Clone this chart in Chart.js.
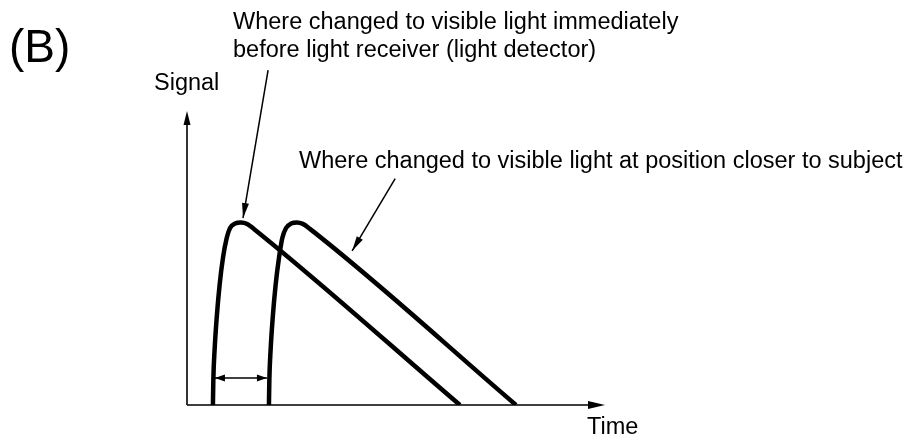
<!DOCTYPE html>
<html>
<head>
<meta charset="utf-8">
<script src="https://cdn.jsdelivr.net/npm/chart.js@4.4.1/dist/chart.umd.min.js"></script>
<style>
  html, body { margin: 0; padding: 0; background: #fff; }
  #wrap { width: 909px; height: 440px; }
</style>
</head>
<body>
<div id="wrap"><canvas id="chart" width="909" height="440"></canvas></div>
<script>
// pulse when changed to visible light right before the light detector
const detectorTime = [6.2, 6.3, 6.6, 7.1, 7.8, 8.6, 9.5, 10.3, 11.5, 12.9, 14.4, 16.0, 65.3];
const detectorSignal = [0, 8.5, 18.7, 29.6, 40.8, 50.0, 56.8, 60.2, 61.7, 62.1, 61.6, 59.9, 0];
// pulse when changed to visible light closer to the subject
const subjectTime = [19.6, 19.7, 20.0, 20.5, 21.2, 22.0, 22.8, 23.7, 24.9, 26.3, 27.7, 29.4, 78.7];
const subjectSignal = [0, 8.5, 18.7, 29.6, 40.8, 50.0, 56.8, 60.2, 61.7, 62.1, 61.6, 59.9, 0];

// callout leaders [time, signal] : start, arrow tip
const leaderDetector = [[19.4, 113.9], [13.4, 63.6]];
const leaderSubject = [[49.8, 77.0], [39.5, 52.4]];
// delay marker between the two rising edges
const delayLevel = 9.2;
const delayFrom = 6.2;
const delayTo = 19.6;

const labelPanel = "(B)";
const labelDetector = ["Where changed to visible light immediately", "before light receiver (light detector)"];
const labelSubject = "Where changed to visible light at position closer to subject";
const labelY = "Signal";
const labelX = "Time";

const toPoints = (xs, ys) => xs.map((x, i) => ({ x: x, y: ys[i] }));

// filled arrow head pointing from (x0,y0) towards (x1,y1)
function arrowHead(ctx, x0, y0, x1, y1, len, half) {
  const a = Math.atan2(y1 - y0, x1 - x0);
  ctx.beginPath();
  ctx.moveTo(x1, y1);
  ctx.lineTo(x1 - len * Math.cos(a) + half * Math.sin(a), y1 - len * Math.sin(a) - half * Math.cos(a));
  ctx.lineTo(x1 - len * Math.cos(a) - half * Math.sin(a), y1 - len * Math.sin(a) + half * Math.cos(a));
  ctx.closePath();
  ctx.fill();
}

const sketchPlugin = {
  id: "sketch",
  afterDatasetsDraw(chart) {
    const ctx = chart.ctx;
    const xs = chart.scales.x;
    const ys = chart.scales.y;
    const px = (v) => xs.getPixelForValue(v);
    const py = (v) => ys.getPixelForValue(v);
    ctx.save();
    ctx.strokeStyle = "#000";
    ctx.fillStyle = "#000";

    // axes with arrows
    ctx.lineWidth = 1.6;
    ctx.beginPath();
    ctx.moveTo(px(0), py(0));
    ctx.lineTo(px(0), py(100) + 8);
    ctx.moveTo(px(0), py(0));
    ctx.lineTo(px(100) - 8, py(0));
    ctx.stroke();
    arrowHead(ctx, px(0), py(0), px(0), py(100), 14, 3.5);
    arrowHead(ctx, px(0), py(0), px(100), py(0), 17, 4);

    // callout leaders
    ctx.lineWidth = 1.5;
    [leaderDetector, leaderSubject].forEach((l) => {
      const x0 = px(l[0][0]), y0 = py(l[0][1]);
      const x1 = px(l[1][0]), y1 = py(l[1][1]);
      ctx.beginPath();
      ctx.moveTo(x0, y0);
      ctx.lineTo(x1, y1);
      ctx.stroke();
      arrowHead(ctx, x0, y0, x1, y1, 15, 3.5);
    });

    // delay double arrow
    const dy = py(delayLevel);
    const dxa = px(delayFrom) + 2, dxb = px(delayTo) - 2;
    ctx.lineWidth = 1.5;
    ctx.beginPath();
    ctx.moveTo(dxa, dy);
    ctx.lineTo(dxb, dy);
    ctx.stroke();
    arrowHead(ctx, dxb, dy, dxa, dy, 10, 3.5);
    arrowHead(ctx, dxa, dy, dxb, dy, 10, 3.5);

    // texts
    ctx.textBaseline = "alphabetic";
    ctx.textAlign = "left";
    ctx.font = "46px 'Liberation Sans', Arial, sans-serif";
    ctx.fillText(labelPanel, 9, 62);
    ctx.font = "23.5px 'Liberation Sans', Arial, sans-serif";
    ctx.fillText(labelDetector[0], 233, 29);
    ctx.fillText(labelDetector[1], 233, 57);
    ctx.fillText(labelY, 154, 90);
    ctx.fillText(labelSubject, 299, 168);
    ctx.fillText(labelX, 587, 434);
    ctx.restore();
  }
};

const lineStyle = {
  borderColor: "#000",
  borderWidth: 4.5,
  pointRadius: 0,
  fill: false,
  cubicInterpolationMode: "monotone",
  borderCapStyle: "butt",
  borderJoinStyle: "round"
};

new Chart(document.getElementById("chart"), {
  type: "line",
  data: {
    datasets: [
      Object.assign({ label: "Detector", data: toPoints(detectorTime, detectorSignal) }, lineStyle),
      Object.assign({ label: "Subject", data: toPoints(subjectTime, subjectSignal) }, lineStyle)
    ]
  },
  options: {
    responsive: false,
    animation: false,
    devicePixelRatio: 1,
    layout: { padding: { left: 187, right: 304, top: 111, bottom: 35 } },
    plugins: { legend: { display: false }, tooltip: { enabled: false } },
    scales: {
      x: { type: "linear", min: 0, max: 100, display: false },
      y: { type: "linear", min: 0, max: 100, display: false }
    }
  },
  plugins: [sketchPlugin]
});
</script>
</body>
</html>
